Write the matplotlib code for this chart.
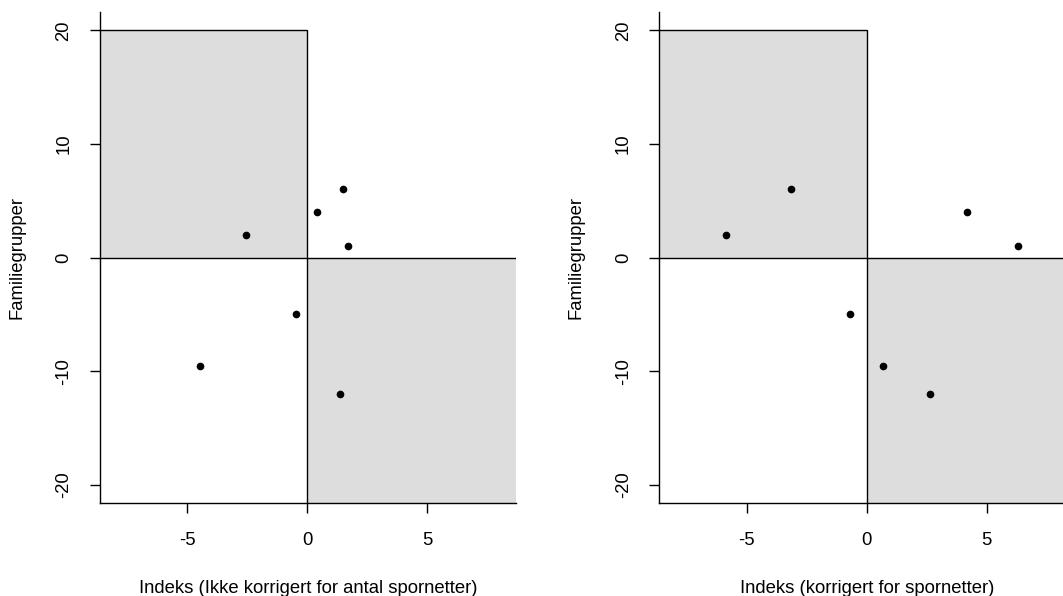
import matplotlib
matplotlib.use("Agg")
import matplotlib.pyplot as plt
from matplotlib.patches import Rectangle

# Data
ylabel = "Familiegrupper"
xlabel_left = "Indeks (Ikke korrigert for antal spornetter)"
xlabel_right = "Indeks (korrigert for spornetter)"

y_vals = [2, 4, 6, 1, -5, -9.5, -12]
x_left = [-2.55, 0.4, 1.5, 1.7, -0.45, -4.45, 1.35]
x_right = [-5.85, 4.2, -3.15, 6.3, -0.7, 0.7, 2.65]
# right panel y values paired with x_right order
y_right = [2, 4, 6, 1, -5, -9.5, -12]

xticks = [-5, 0, 5]
yticks = [-20, -10, 0, 10, 20]

plt.rcParams['font.family'] = ['Liberation Sans', 'DejaVu Sans']
FS = 13.3
GRAY = "#dddddd"

W, H = 1063, 596
fig = plt.figure(figsize=(W / 100, H / 100), dpi=100)

def px_axes(left_px, top_px, width_px, height_px):
    return fig.add_axes([left_px / W, (H - top_px - height_px) / H,
                         width_px / W, height_px / H])

XLIM = (-8.65, 8.7)
YLIM = (-21.62, 21.62)

def draw(ax, xs, ys, xlabel):
    ax.set_xlim(*XLIM)
    ax.set_ylim(*YLIM)
    # quadrants
    ax.add_patch(Rectangle((-100, 0), 100, 20, facecolor=GRAY,
                           edgecolor="black", linewidth=1.0, zorder=1))
    ax.add_patch(Rectangle((0, -100), 100, 100, facecolor=GRAY,
                           edgecolor="black", linewidth=1.0, zorder=1))
    ax.plot(xs, ys, linestyle="none", marker="o", markersize=4.5,
            color="black", zorder=3)
    for s in ("top", "right"):
        ax.spines[s].set_visible(False)
    for s in ("left", "bottom"):
        ax.spines[s].set_linewidth(1.0)
        ax.spines[s].set_zorder(4)
    ax.set_xticks(xticks)
    ax.set_yticks(yticks)
    ax.set_xticklabels([str(t) for t in xticks])
    ax.set_yticklabels([str(t) for t in yticks])
    ax.tick_params(axis="both", direction="out", length=7.4, width=1.0,
                   labelsize=FS, colors="black")
    ax.tick_params(axis="x", pad=13.5)
    ax.tick_params(axis="y", pad=12.2, labelrotation=90)
    for lbl in ax.get_yticklabels():
        lbl.set_va("center")
    ax.set_xlabel(xlabel, fontsize=FS)
    ax.set_ylabel(ylabel, fontsize=FS)
    ax.xaxis.set_label_coords(0.5, -0.157)
    ax.yaxis.set_label_coords(-0.178, 0.5)
    ax.set_facecolor("white")

ax1 = px_axes(99.7, 12, 416.3, 491.3)
draw(ax1, x_left, y_vals, xlabel_left)

ax2 = px_axes(659, 12, 416.3, 491.3)
draw(ax2, x_right, y_right, xlabel_right)

fig.savefig("out.png", dpi=100)
